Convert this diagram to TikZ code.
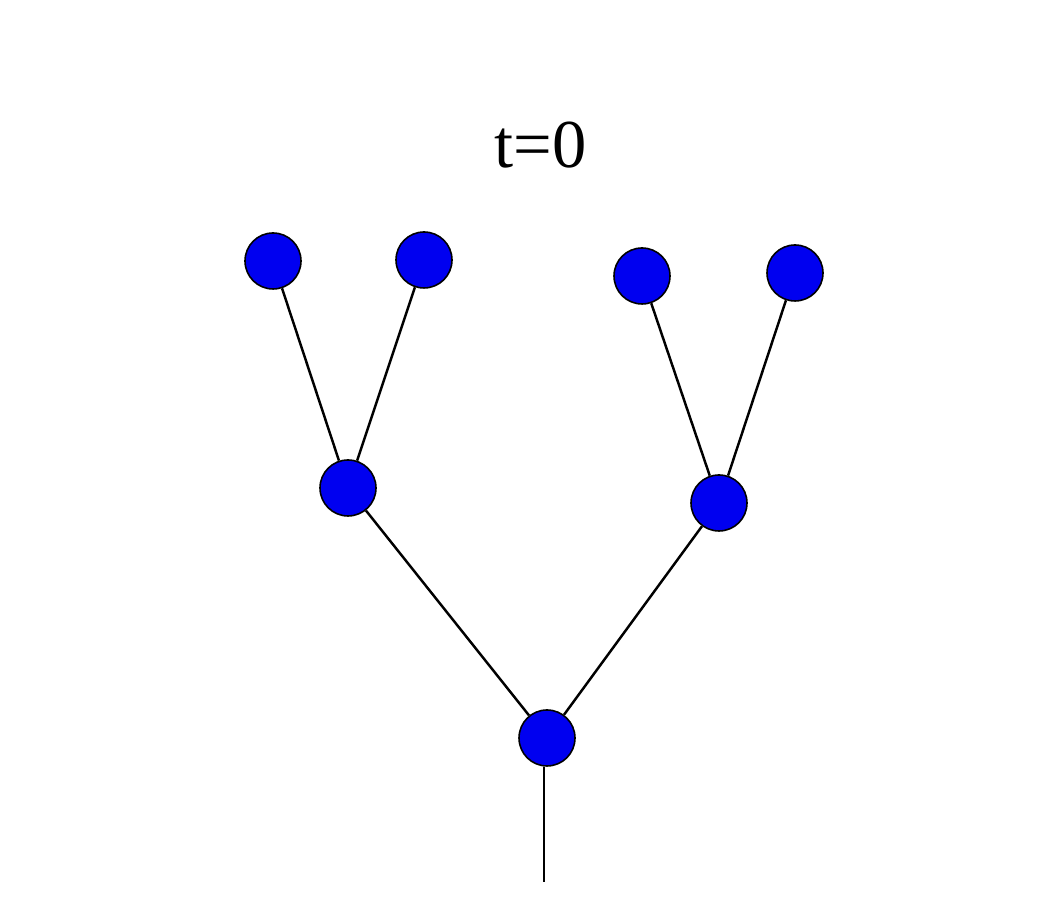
\documentclass[tikz,border=0pt]{standalone}
\usepackage{fontspec}
\setmainfont{Liberation Serif}
\definecolor{nodeblue}{HTML}{0000F0}

\begin{document}
\begin{tikzpicture}[
  leaf/.style={circle, draw=black, fill=nodeblue, line width=0.9pt,
    minimum size=1.12cm, inner sep=0pt},
  edge/.style={line width=1.4pt},
  stem/.style={line width=0.9pt},
  title/.style={font=\fontsize{39}{46}\selectfont, anchor=base}
]
\useasboundingbox (0,0) rectangle (20.98,18.14);
% the label above the tree
\node[title] (lab) at (10.81,14.78) {t=0};
% the top row
\node[leaf] (la) at (5.46,12.92) {};
\node[leaf] (lb) at (8.48,12.94) {};
\node[leaf] (ra) at (12.84,12.62) {};
\node[leaf] (rb) at (15.90,12.68) {};
% the two branch points
\node[leaf] (lm) at (6.96,8.38) {};
\node[leaf] (rm) at (14.38,8.08) {};
% the root and the end of its stem
\node[leaf] (root) at (10.94,3.38) {};
\coordinate (foot) at (10.88,0.50);
\draw[edge] (lm) -- (la);
\draw[edge] (lm) -- (lb);
\draw[edge] (rm) -- (ra);
\draw[edge] (rm) -- (rb);
\draw[edge] (root) -- (lm);
\draw[edge] (root) -- (rm);
\draw[stem] (root.south -| foot) -- (foot);
\end{tikzpicture}
\end{document}
